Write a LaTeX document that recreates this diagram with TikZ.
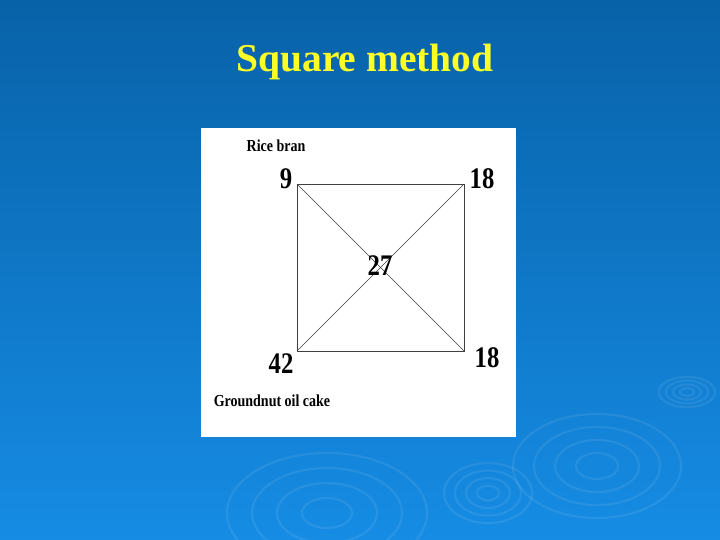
\documentclass[tikz,border=0pt]{standalone}
\usepackage{fontspec}
\usepackage{graphicx}
\setmainfont{Liberation Serif}
\usetikzlibrary{positioning}

\definecolor{slidetop}{RGB}{8,98,168}
\definecolor{slidebot}{RGB}{22,140,228}
\definecolor{titleyellow}{RGB}{255,255,40}

\newcommand{\tallnum}[1]{\scalebox{0.95}[1.15]{#1}}
\newcommand{\talllbl}[1]{\scalebox{1}[1.2]{#1}}

\tikzset{
  ripple/.style={draw=white, draw opacity=0.08, line width=2.2},
  num/.style={inner sep=0.75pt, font=\bfseries\fontsize{26}{26}\selectfont},
  lbl/.style={inner sep=0.75pt, font=\bfseries\fontsize{14}{14}\selectfont}
}

\begin{document}
\begin{tikzpicture}[x=1pt,y=1pt,yscale=-1,xscale=1]

% background
\shade [top color=slidetop, bottom color=slidebot] (0,0) rectangle (720,540);
\useasboundingbox (0,0) rectangle (720,540);

% ripples
\foreach \r in {1,2,3,4} {
  \draw [ripple] (687,392) ellipse ({7*\r} and {3.8*\r});
  \draw [ripple] (597,466) ellipse ({21*\r} and {13*\r});
  \draw [ripple] (488,493) ellipse ({11*\r} and {7.5*\r});
  \draw [ripple] (327,513) ellipse ({25*\r} and {15*\r});
}

% title
\node (title) [inner sep=0.75pt, text=titleyellow, font=\bfseries\fontsize{39.5}{39.5}\selectfont] at (365,62) {Square method};

% white panel
\fill [white] (201,128) rectangle (516,437);

% square
\coordinate (tl) at (297,184);
\coordinate (tr) at (464,184);
\coordinate (br) at (464,351);
\coordinate (bl) at (297,351);
\draw [line width=0.5, color=black!75] (tl) -- (tr) -- (br) -- (bl) -- cycle;
\draw [line width=0.5, color=black!75] (tl) -- (br);
\draw [line width=0.5, color=black!75] (tr) -- (bl);

% Text Node
\node (rice) [lbl] at (276,146) {\talllbl{Rice bran}};
\node (nine) [num] at (286,179) {\tallnum{9}};
\node (topr) [num] at (482,179) {\tallnum{18}};
\node (mid) [num] at (380,266) {\tallnum{27}};
\node (bot) [num] at (281,364) {\tallnum{42}};
\node (botr) [num] at (487,358) {\tallnum{18}};
\node (cake) [lbl] at (272,401) {\talllbl{Groundnut oil cake}};

\end{tikzpicture}
\end{document}
